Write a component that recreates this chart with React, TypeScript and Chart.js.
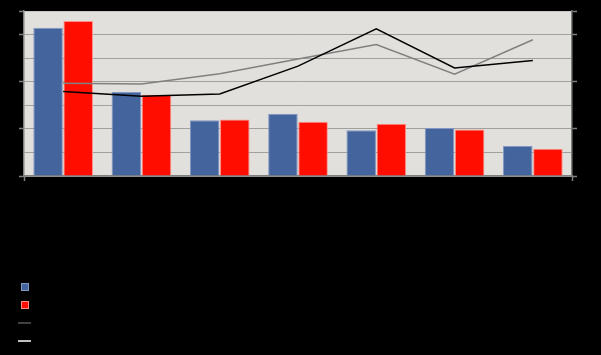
import React, { useEffect, useRef } from "react";
import { Chart, registerables } from "chart.js";

Chart.register(...registerables);

// ---- data ----
const categories = ["Category 1", "Category 2", "Category 3", "Category 4", "Category 5", "Category 6", "Category 7"];
const seriesNames = ["Series 1", "Series 2", "Series 3", "Series 4"];
const barBlue = [62.9, 35.6, 23.6, 26.4, 19.4, 20.4, 12.7];
const barRed = [65.8, 34.5, 24.0, 23.0, 22.2, 19.7, 11.6];
const lineBlack = [1.79, 1.69, 1.74, 2.33, 3.12, 2.29, 2.45];
const lineGray = [1.97, 1.95, 2.17, 2.48, 2.79, 2.16, 2.89];
const leftTicks = { min: 0, max: 70, step: 10 };
const rightTicks = { min: 0, max: 3.5, step: 0.5 };

// ---- styles ----
const BLUE = "#44649d";
const BLUE_EDGE = "#8298c2";
const RED = "#ff0e00";
const RED_EDGE = "#ff8f86";
const BLACK_LINE = "#000000";
const GRAY_LINE = "#808080";
const LEGEND_LINE_COLORS = ["#404040", "#c0c0c0"];
const AXIS = "#808080";
const GRID = "#a0a09c";
const PLOT_BG = "#e1e0dc";
const NONE = "rgba(0,0,0,0)";

const isMajor = (v: number, step: number, max: number) => {
  const r = v / (2 * step);
  return Math.abs(r - Math.round(r)) < 1e-9 || Math.abs(v - max) < 1e-9;
};

const plotBg = {
  id: "plotBg",
  beforeDraw(chart: any) {
    const { ctx, chartArea } = chart;
    if (!chartArea) return;
    ctx.save();
    ctx.fillStyle = PLOT_BG;
    ctx.fillRect(chartArea.left, chartArea.top, chartArea.right - chartArea.left, chartArea.bottom - chartArea.top);
    ctx.restore();
  },
};

export default function App() {
  const ref = useRef<HTMLCanvasElement | null>(null);

  useEffect(() => {
    document.body.style.margin = "0";
    document.body.style.background = "#000";
    if (!ref.current) return;
    const chart = new Chart(ref.current, {
      type: "bar",
      data: {
        labels: categories,
        datasets: [
          { type: "bar", label: seriesNames[0], data: barBlue, backgroundColor: BLUE, borderColor: BLUE_EDGE, borderWidth: 1, yAxisID: "y", order: 2 },
          { type: "bar", label: seriesNames[1], data: barRed, backgroundColor: RED, borderColor: RED_EDGE, borderWidth: 1, yAxisID: "y", order: 3 },
          { type: "line", label: seriesNames[2], data: lineBlack, borderColor: BLACK_LINE, backgroundColor: BLACK_LINE, borderWidth: 1.5, pointRadius: 0, tension: 0, yAxisID: "y1", order: 0 },
          { type: "line", label: seriesNames[3], data: lineGray, borderColor: GRAY_LINE, backgroundColor: GRAY_LINE, borderWidth: 1.5, pointRadius: 0, tension: 0, yAxisID: "y1", order: 1 },
        ] as any,
      },
      options: {
        animation: false,
        responsive: true,
        maintainAspectRatio: false,
        datasets: { bar: { categoryPercentage: 0.77, barPercentage: 0.98 } },
        layout: { padding: { top: 11, left: 0, right: 0, bottom: 0 } },
        plugins: { legend: { display: false }, tooltip: { enabled: false } },
        scales: {
          x: {
            position: "bottom",
            grid: { display: false },
            border: { display: true, color: AXIS, width: 1.5 },
            ticks: { color: "#000", font: { family: "Liberation Sans", size: 11 } },
            afterFit: (s: any) => { s.height = 179; },
          },
          xe: {
            type: "linear",
            position: "bottom",
            weight: -10,
            min: 0,
            max: 1,
            offset: false,
            ticks: { display: false, stepSize: 1 },
            grid: {
              offset: false,
              drawOnChartArea: false,
              tickLength: 5,
              tickWidth: 1.5,
              tickColor: AXIS,
            },
            border: { display: false },
            afterFit: (s: any) => { s.height = 0; },
          },
          y: {
            position: "left",
            min: leftTicks.min,
            max: leftTicks.max,
            ticks: { stepSize: leftTicks.step, color: "#000", font: { family: "Liberation Sans", size: 11 } },
            grid: {
              color: (c: any) => (c.tick && c.tick.value === leftTicks.max ? "#c6c6c2" : GRID),
              lineWidth: 1,
              tickLength: 5,
              tickWidth: 1.5,
              tickColor: (c: any) => (c.tick && isMajor(c.tick.value, leftTicks.step, leftTicks.max) ? AXIS : NONE),
            },
            border: { display: true, color: AXIS, width: 1.5 },
            afterFit: (s: any) => { s.width = 24; },
          },
          y1: {
            position: "right",
            min: rightTicks.min,
            max: rightTicks.max,
            ticks: { stepSize: rightTicks.step, color: "#000", font: { family: "Liberation Sans", size: 11 } },
            grid: {
              drawOnChartArea: false,
              tickLength: 5,
              tickWidth: 1.5,
              tickColor: (c: any) => (c.tick && isMajor(c.tick.value, rightTicks.step, rightTicks.max) ? AXIS : NONE),
            },
            border: { display: true, color: AXIS, width: 1.5 },
            afterFit: (s: any) => { s.width = 29; },
          },
        },
      } as any,
      plugins: [plotBg],
    });
    return () => chart.destroy();
  }, []);

  const legendItems = [
    { kind: "box", fill: BLUE, edge: BLUE_EDGE, label: seriesNames[0] },
    { kind: "box", fill: RED, edge: RED_EDGE, label: seriesNames[1] },
    { kind: "line", fill: LEGEND_LINE_COLORS[0], edge: "", label: seriesNames[2] },
    { kind: "line", fill: LEGEND_LINE_COLORS[1], edge: "", label: seriesNames[3] },
  ];

  return (
    <div style={{ position: "relative", width: 601, height: 355, background: "#000", overflow: "hidden" }}>
      <canvas ref={ref} />
      <div style={{ position: "absolute", left: 18, top: 278, fontFamily: "Liberation Sans, sans-serif", fontSize: 11, color: "#000" }}>
        {legendItems.map((it, i) => (
          <div key={i} style={{ height: 18.1, display: "flex", alignItems: "center" }}>
            <div style={{ width: 13, display: "flex", justifyContent: "center", alignItems: "center" }}>
              {it.kind === "box" ? (
                <div style={{ width: 6, height: 6, background: it.fill, border: `1px solid ${it.edge}` }} />
              ) : (
                <div style={{ width: 13, height: 2, background: it.fill }} />
              )}
            </div>
            <span style={{ marginLeft: 6 }}>{it.label}</span>
          </div>
        ))}
      </div>
    </div>
  );
}
